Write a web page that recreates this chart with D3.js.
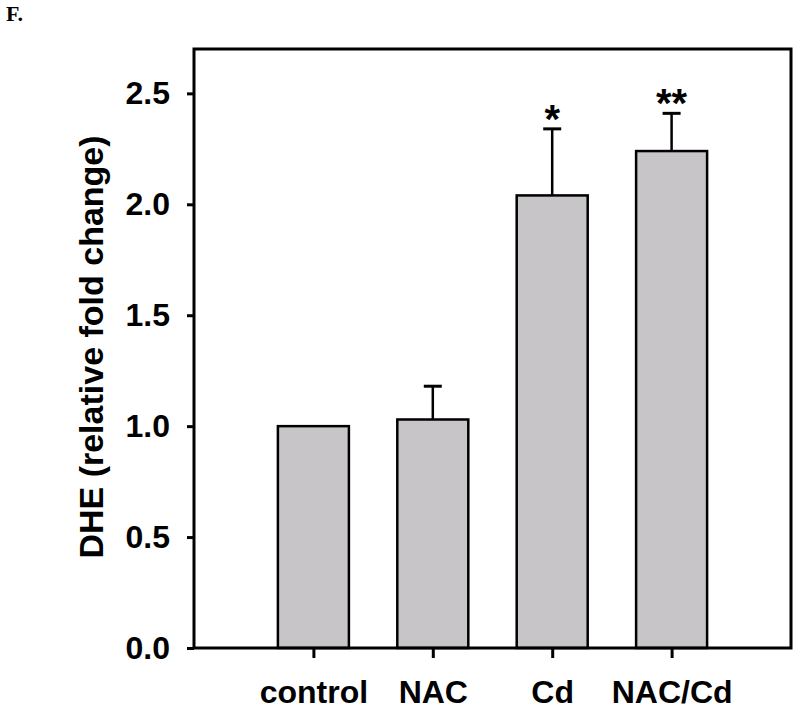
<!DOCTYPE html>
<html>
<head>
<meta charset="utf-8">
<script src="https://cdn.jsdelivr.net/npm/d3@7"></script>
<style>
  html, body { margin: 0; padding: 0; background: #fff; }
  svg { display: block; }
</style>
</head>
<body>
<svg id="chart" width="800" height="713"></svg>
<script>
const categories = ["control", "NAC", "Cd", "NAC/Cd"];
const means = [1.0, 1.03, 2.04, 2.24];
const errors = [0, 0.15, 0.30, 0.17];
const marks = ["", "", "*", "**"];
const yTicks = [0, 0.5, 1.0, 1.5, 2.0, 2.5];
const yTitle = "DHE (relative fold change)";
const panelLabel = "F.";

(function () {
const svg = d3.select("#chart");
const pL = 194, pR = 791, pT = 49, pB = 648;

const x = d3.scalePoint().domain(categories).range([pL, pR]).padding(1);
const y = d3.scaleLinear().domain([0, 2.7]).range([pB, pT]);
const barW = 71;
const font = "'Liberation Sans', Arial, sans-serif";

// Panel label
svg.append("text").attr("x", 6).attr("y", 21)
  .attr("font-family", "'Liberation Serif', 'Times New Roman', serif")
  .attr("font-weight", "bold").attr("font-size", 22).text(panelLabel);

// Bars
const g = svg.append("g");
g.selectAll("rect.bar").data(categories).join("rect")
  .attr("class", "bar")
  .attr("x", (d) => x(d) - barW / 2)
  .attr("y", (d, i) => y(means[i]))
  .attr("width", barW)
  .attr("height", (d, i) => y(0) - y(means[i]))
  .attr("fill", "#c7c5c8")
  .attr("stroke", "#000").attr("stroke-width", 2.5);

// Error bars
const errIdx = categories.map((d, i) => i).filter(i => errors[i] > 0);
g.selectAll("line.err").data(errIdx).join("line")
  .attr("class", "err")
  .attr("x1", i => x(categories[i])).attr("x2", i => x(categories[i]))
  .attr("y1", i => y(means[i])).attr("y2", i => y(means[i] + errors[i]))
  .attr("stroke", "#000").attr("stroke-width", 2.5);
g.selectAll("line.cap").data(errIdx).join("line")
  .attr("class", "cap")
  .attr("x1", i => x(categories[i]) - 9).attr("x2", i => x(categories[i]) + 9)
  .attr("y1", i => y(means[i] + errors[i])).attr("y2", i => y(means[i] + errors[i]))
  .attr("stroke", "#000").attr("stroke-width", 3);

// Significance marks
g.selectAll("text.mark").data(categories).join("text")
  .attr("class", "mark")
  .attr("x", d => x(d))
  .attr("y", (d, i) => y(means[i] + errors[i]) + 4)
  .attr("text-anchor", "middle")
  .attr("font-family", font).attr("font-weight", "bold").attr("font-size", 40)
  .text((d, i) => marks[i]);

// Frame
svg.append("rect").attr("x", pL).attr("y", pT)
  .attr("width", pR - pL).attr("height", pB - pT)
  .attr("fill", "none").attr("stroke", "#000").attr("stroke-width", 3);

// Y axis
const yAxis = svg.append("g").attr("transform", `translate(${pL},0)`)
  .call(d3.axisLeft(y).tickValues(yTicks).tickFormat(d3.format(".1f")).tickSize(7).tickPadding(17));
yAxis.select(".domain").remove();
yAxis.selectAll(".tick line").attr("stroke-width", 3);
yAxis.selectAll(".tick text").attr("font-family", font).attr("font-weight", "bold")
  .attr("font-size", 32).attr("fill", "#000");

// X axis
const xAxis = svg.append("g").attr("transform", `translate(0,${pB})`)
  .call(d3.axisBottom(x).tickSize(10).tickPadding(22));
xAxis.select(".domain").remove();
xAxis.selectAll(".tick line").attr("stroke-width", 3);
xAxis.selectAll(".tick text").attr("font-family", font).attr("font-weight", "bold")
  .attr("font-size", 32).attr("fill", "#000");

// Y title
svg.append("text")
  .attr("transform", `translate(103,347) rotate(-90)`)
  .attr("text-anchor", "middle")
  .attr("font-family", font).attr("font-weight", "bold").attr("font-size", 34)
  .text(yTitle);
})();
</script>
</body>
</html>
